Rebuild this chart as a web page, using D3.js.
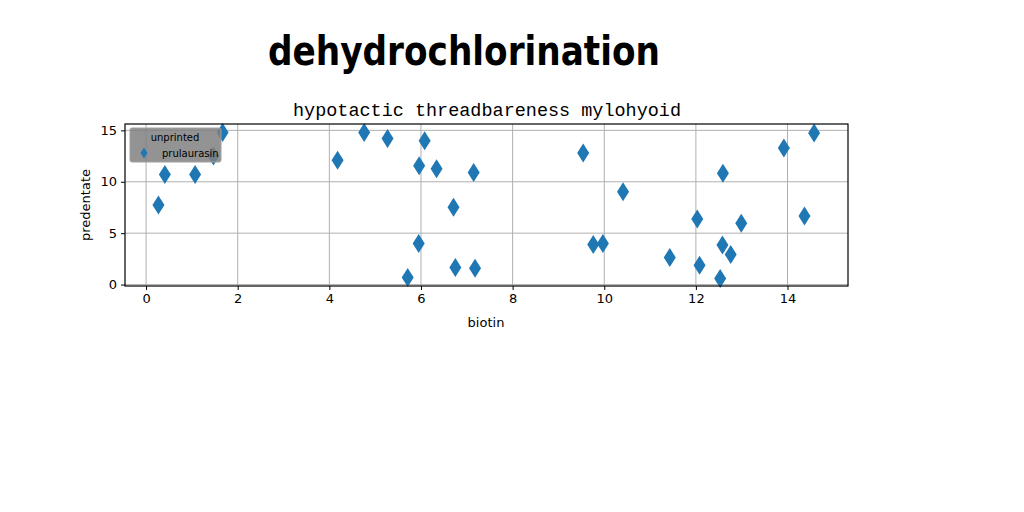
<!DOCTYPE html>
<html>
<head>
<meta charset="utf-8">
<script src="https://cdn.jsdelivr.net/npm/d3@7"></script>
<style>
  body { margin: 0; background: #fff; }
  svg { display: block; }
  .tick text { font-family: "DejaVu Sans", sans-serif; font-size: 13px; fill: #000; }
</style>
</head>
<body>
<div id="chart"></div>
<script>
// values
var xVals = [1.67, 4.76, 1.47, 4.18, 0.41, 1.07, 0.27, 5.27, 6.08, 5.96, 6.34, 7.15, 6.71, 5.95, 6.75, 7.18,
             5.71, 9.54, 10.41, 9.76, 9.97, 14.58, 13.92, 12.59, 12.03, 12.99, 14.37, 12.58, 12.76, 11.43,
             12.08, 12.53];
var yVals = [14.8, 14.8, 12.5, 12.1, 10.7, 10.7, 7.74, 14.2, 14.0, 11.55, 11.26, 10.9, 7.52, 4.0, 1.66, 1.59,
             0.68, 12.8, 9.04, 3.9, 4.0, 14.75, 13.28, 10.84, 6.38, 5.96, 6.67, 3.84, 2.93, 2.64,
             1.88, 0.59];
var xTicks = [0, 2, 4, 6, 8, 10, 12, 14];
var yTicks = [0, 5, 10, 15];
var seriesName = 'prulaurasin';
var legendTitle = 'unprinted';

var width = 1024, height = 512;
var pLeft = 125, pRight = 848, pTop = 124, pBottom = 286;

var svg = d3.select('#chart').append('svg').attr('width', width).attr('height', height);

var x = d3.scaleLinear().domain([-0.46, 15.32]).range([pLeft, pRight]);
var y = d3.scaleLinear().domain([-0.14, 15.62]).range([pBottom, pTop]);

// grid
svg.append('g').selectAll('line').data(xTicks).enter().append('line')
    .attr('x1', d => x(d)).attr('x2', d => x(d)).attr('y1', pTop).attr('y2', pBottom)
    .style('stroke', '#b0b0b0').style('stroke-width', 1);
svg.append('g').selectAll('line').data(yTicks).enter().append('line')
    .attr('x1', pLeft).attr('x2', pRight).attr('y1', d => y(d)).attr('y2', d => y(d))
    .style('stroke', '#b0b0b0').style('stroke-width', 1);

// points
var diamond = 'M0,-9.5L6,0L0,9.5L-6,0Z';
var data = xVals.map((v, i) => ({x: v, y: yVals[i]}));
svg.append('g').selectAll('path').data(data).enter().append('path')
    .attr('d', diamond)
    .attr('transform', d => `translate(${x(d.x)},${y(d.y)})`)
    .style('fill', '#1f77b4');

// axes
var xAxis = svg.append('g').attr('transform', `translate(0,${pBottom})`)
    .call(d3.axisBottom(x).tickValues(xTicks).tickSize(4).tickPadding(4).tickSizeOuter(0));
var yAxis = svg.append('g').attr('transform', `translate(${pLeft},0)`)
    .call(d3.axisLeft(y).tickValues(yTicks).tickSize(4).tickPadding(4).tickSizeOuter(0));
xAxis.select('.domain').remove();
yAxis.select('.domain').remove();
svg.selectAll('.tick line').style('stroke', '#000');

svg.append('rect').attr('x', pLeft).attr('y', pTop).attr('width', pRight - pLeft).attr('height', pBottom - pTop)
    .style('fill', 'none').style('stroke', '#000').style('stroke-width', 1.2);

// legend
var lg = svg.append('g');
lg.append('rect').attr('x', 130).attr('y', 128).attr('width', 91).attr('height', 34).attr('rx', 2)
    .style('fill', '#808080').style('fill-opacity', 0.85).style('stroke', '#a0a0a0');
lg.append('text').attr('x', 175).attr('y', 141).attr('text-anchor', 'middle')
    .style('font-family', '"DejaVu Sans", sans-serif').style('font-size', '10px').text(legendTitle);
lg.append('path').attr('d', 'M0,-5.5L3.5,0L0,5.5L-3.5,0Z').attr('transform', 'translate(144,153)')
    .style('fill', '#1f77b4');
lg.append('text').attr('x', 162).attr('y', 156.5)
    .style('font-family', '"DejaVu Sans", sans-serif').style('font-size', '10px').text(seriesName);

// titles
svg.append('text').attr('x', 464).attr('y', 65).attr('text-anchor', 'middle')
    .attr('textLength', 392).attr('lengthAdjust', 'spacingAndGlyphs')
    .style('font-family', '"Comic Sans MS", "DejaVu Sans", sans-serif').style('font-weight', 'bold')
    .style('font-size', '40px').text('dehydrochlorination');
svg.append('text').attr('x', 487).attr('y', 116).attr('text-anchor', 'middle')
    .attr('textLength', 388).attr('lengthAdjust', 'spacingAndGlyphs')
    .style('font-family', '"Liberation Mono", monospace').style('font-size', '18px')
    .text('hypotactic threadbareness mylohyoid');

svg.append('text').attr('x', 486).attr('y', 327).attr('text-anchor', 'middle')
    .style('font-family', '"DejaVu Sans", sans-serif').style('font-size', '13px').text('biotin');
svg.append('text').attr('transform', `translate(90,${(pTop + pBottom) / 2})rotate(-90)`).attr('text-anchor', 'middle')
    .style('font-family', '"DejaVu Sans", sans-serif').style('font-size', '13px').text('predentate');
</script>
</body>
</html>
